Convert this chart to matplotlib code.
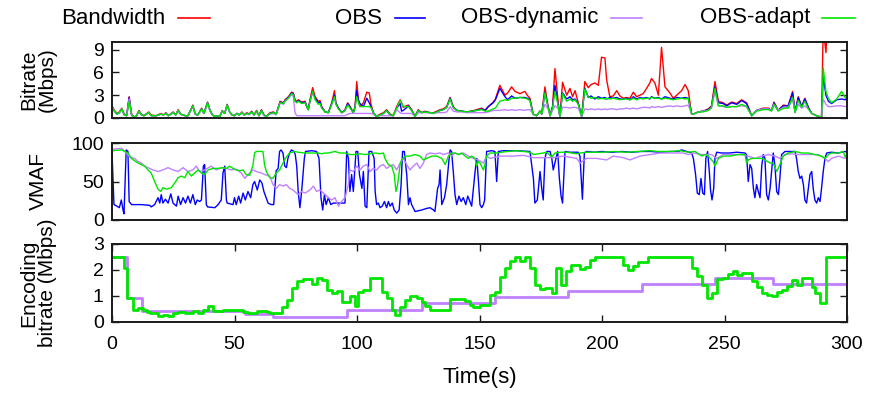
import matplotlib
matplotlib.use("Agg")
import matplotlib.pyplot as plt
from matplotlib.lines import Line2D

plt.rcParams['font.family'] = ['Liberation Sans', 'DejaVu Sans']

# ---------------- colours / labels ----------------
series_labels = ["Bandwidth", "OBS", "OBS-dynamic", "OBS-adapt"]
series_colors = ["#ff0000", "#0000ff", "#c080ff", "#00e600"]

# ---------------- panel 1: bitrate (Mbps) ----------------
rate_t = [0, 1, 2, 3, 4, 5, 6, 7, 8, 9,
          10, 11, 12, 13, 15, 16, 18, 20, 21, 22,
          23, 25, 26, 27, 28, 30, 31, 33, 34, 35,
          36.6, 37.5, 39, 40, 41, 42, 43, 44, 45, 46,
          47, 48, 49, 50, 51, 52, 53, 54, 55, 56,
          57, 58, 59, 60, 61, 62, 63, 64.5, 66, 67,
          68.6, 70, 70.6, 72, 73.3, 74, 74.7, 75.4, 76.1, 77.4,
          78.8, 79.5, 80.1, 80.8, 81.9, 82.9, 84.2, 84.9, 85.6, 87,
          88.3, 89.7, 90.8, 91.4, 92.4, 93.8, 95.1, 96.2, 97.2, 98.5,
          99.2, 99.9, 100.6, 101.2, 102.6, 104, 105, 105.7, 106.7, 107.8,
          109.4, 110.8, 112.1, 113.5, 114.8, 116.2, 117.6, 118.2, 118.9, 120,
          121, 122.3, 123.7, 125, 126.4, 127.8, 129.8, 131.2, 132.5, 133.9,
          135.2, 136.6, 138, 139.3, 140.7, 142.7, 144.8, 146.8, 148.9, 150.9,
          152.3, 153.6, 155.6, 156.5, 158.3, 160.4, 161.5, 163.1, 164.5, 166.5,
          168.5, 169.5, 170.6, 171.9, 173.3, 174.7, 175.4, 176.7, 178, 178.8,
          179.8, 180.8, 182.2, 182.8, 183.9, 185.6, 186.9, 188, 189, 190.3,
          191.7, 193, 194.4, 195.5, 197.1, 198.5, 199.8, 201.2, 201.9, 203.2,
          204.6, 206, 207.3, 208.7, 210, 211.4, 212.8, 214.1, 215.5, 216.8,
          218.2, 219.5, 220.2, 221.6, 223, 224.3, 225.7, 227.7, 229.1, 230.5,
          232.5, 233.9, 235.2, 236.6, 238, 239.3, 241.3, 243.4, 244.7, 246.1,
          247.5, 249.5, 250.9, 252.9, 255, 257, 259, 261.1, 263.1, 265.8,
          267.9, 269.2, 270.2, 271.9, 274, 276, 277.8, 278.8, 280.1, 281.5,
          282.8, 284.2, 285.6, 287.6, 289.6, 290.3, 291.4, 292.4, 293.7, 295.8,
          297.8, 299.2, 300]

bandwidth = [1.6, 1.0, 0.6, 0.8, 1.3, 0.5, 0.4, 2.8, 0.5, 0.1,
             0.3, 1.0, 0.5, 0.3, 0.8, 0.4, 0.3, 0.6, 0.4, 0.7,
             0.3, 0.8, 0.4, 1.1, 0.5, 0.3, 0.3, 1.7, 0.5, 0.4,
             1.3, 0.6, 2.1, 1.0, 0.4, 0.2, 0.3, 0.2, 1.0, 0.6,
             1.8, 0.8, 0.4, 0.3, 0.6, 0.4, 0.8, 0.4, 0.7, 0.5,
             0.9, 0.4, 1.0, 0.3, 1.1, 0.4, 0.2, 0.7, 0.8, 0.5,
             2.2, 2.0, 2.4, 2.8, 3.4, 3.3, 2.4, 2.2, 2.4, 2.1,
             2.2, 1.5, 1.1, 2.4, 4.0, 2.8, 2.2, 2.3, 1.5, 0.8,
             0.7, 2.0, 3.6, 2.0, 1.3, 0.7, 1.1, 2.0, 1.5, 0.7,
             1.5, 4.8, 2.4, 1.5, 2.0, 3.4, 3.3, 1.8, 0.7, 0.2,
             0.5, 0.7, 1.1, 0.5, 0.3, 1.5, 2.4, 2.0, 1.4, 1.6,
             1.7, 1.1, 0.2, 1.1, 0.7, 0.9, 0.7, 0.7, 0.9, 1.1,
             1.2, 1.5, 2.7, 1.5, 1.0, 0.9, 0.8, 0.9, 1.1, 1.3,
             1.0, 1.5, 2.1, 2.5, 4.3, 3.0, 3.3, 4.1, 3.5, 3.2,
             3.5, 3.0, 2.6, 0.5, 0.3, 0.9, 0.5, 4.1, 1.5, 0.3,
             1.5, 6.5, 1.8, 0.2, 4.7, 3.0, 3.9, 2.8, 3.6, 2.0,
             0.2, 4.8, 4.0, 4.4, 4.6, 4.3, 8.0, 7.9, 5.0, 2.8,
             2.9, 3.6, 2.9, 2.6, 2.7, 2.6, 3.4, 2.8, 3.0, 3.2,
             3.9, 4.6, 5.2, 4.6, 3.0, 9.3, 4.1, 3.3, 2.6, 3.0,
             3.6, 4.4, 3.6, 0.5, 0.6, 0.8, 0.9, 1.2, 1.6, 4.8,
             2.2, 2.0, 1.7, 2.1, 1.9, 2.4, 2.0, 0.3, 1.0, 1.3,
             1.3, 1.0, 2.1, 1.0, 1.7, 1.6, 3.5, 0.8, 2.8, 1.5,
             2.6, 1.4, 0.6, 0.3, 0.1, 12.0, 8.6, 15, 15, 15,
             15, 15, 15]

obs_rate = [1.5, 0.9, 0.5, 0.7, 1.2, 0.4, 0.3, 2.7, 0.4, 0.1,
            0.3, 0.9, 0.4, 0.3, 0.7, 0.3, 0.3, 0.5, 0.4, 0.6,
            0.3, 0.7, 0.4, 1.0, 0.5, 0.3, 0.3, 1.6, 0.5, 0.4,
            1.2, 0.6, 2.0, 1.0, 0.4, 0.2, 0.3, 0.2, 0.9, 0.6,
            1.7, 0.8, 0.4, 0.3, 0.6, 0.4, 0.7, 0.4, 0.6, 0.5,
            0.8, 0.4, 0.9, 0.3, 1.0, 0.4, 0.2, 0.6, 0.7, 0.5,
            2.1, 1.9, 2.3, 2.7, 3.3, 3.2, 2.3, 2.1, 2.3, 2.0,
            2.1, 1.5, 1.1, 2.2, 3.5, 2.6, 2.0, 2.1, 1.4, 0.8,
            0.7, 1.9, 3.0, 1.9, 1.3, 0.7, 1.0, 1.9, 1.4, 0.7,
            1.4, 3.6, 2.3, 1.9, 1.5, 2.6, 2.0, 1.5, 0.7, 0.2,
            0.4, 0.6, 1.0, 0.4, 0.3, 1.3, 1.9, 0.9, 1.0, 1.3,
            1.6, 1.0, 0.2, 1.0, 0.7, 0.8, 0.7, 0.6, 0.8, 1.0,
            1.1, 1.4, 2.6, 1.4, 1.0, 0.9, 0.8, 0.9, 1.0, 1.2,
            1.0, 1.5, 2.0, 2.4, 3.9, 2.8, 2.4, 2.9, 2.6, 2.7,
            2.7, 2.6, 2.4, 0.5, 0.3, 0.9, 0.5, 3.4, 1.5, 0.3,
            1.4, 4.3, 1.5, 0.2, 3.3, 2.5, 2.8, 2.4, 2.5, 1.9,
            0.2, 3.9, 2.7, 2.9, 2.5, 2.8, 2.6, 2.7, 2.5, 2.7,
            2.6, 2.7, 2.5, 2.5, 2.6, 2.4, 2.8, 2.5, 2.7, 2.6,
            2.7, 2.5, 2.8, 2.6, 2.7, 2.5, 2.8, 2.6, 2.5, 2.7,
            2.6, 2.7, 2.6, 0.5, 0.6, 0.8, 0.9, 1.1, 1.5, 4.1,
            2.0, 1.9, 1.6, 2.0, 1.8, 2.3, 1.9, 0.3, 1.0, 1.2,
            1.2, 1.0, 2.0, 1.0, 1.6, 1.6, 3.3, 0.8, 2.7, 1.5,
            2.5, 1.4, 0.6, 0.3, 0.1, 5.5, 3.0, 2.2, 1.9, 2.4,
            2.5, 2.4, 2.6]

dynamic_rate = [1.5, 0.9, 0.5, 0.7, 1.2, 0.4, 0.3, 2.5, 0.3, 0.1,
                0.3, 0.9, 0.4, 0.3, 0.7, 0.3, 0.3, 0.5, 0.4, 0.6,
                0.3, 0.7, 0.4, 1.0, 0.5, 0.3, 0.3, 1.5, 0.5, 0.4,
                1.1, 0.6, 1.8, 0.9, 0.4, 0.2, 0.3, 0.2, 0.9, 0.6,
                1.6, 0.8, 0.4, 0.3, 0.6, 0.4, 0.7, 0.4, 0.6, 0.4,
                0.7, 0.4, 0.8, 0.3, 0.9, 0.3, 0.2, 0.5, 0.6, 0.4,
                2.0, 1.8, 2.2, 2.6, 3.1, 2.8, 0.7, 0.3, 0.3, 0.3,
                0.3, 0.3, 0.3, 0.3, 0.3, 0.3, 0.3, 0.3, 0.3, 0.3,
                0.3, 0.3, 0.3, 0.3, 0.3, 0.3, 0.3, 0.5, 0.6, 0.6,
                0.6, 0.6, 0.6, 0.6, 0.6, 0.6, 0.6, 0.6, 0.5, 0.2,
                0.3, 0.3, 0.3, 0.3, 0.3, 1.1, 0.7, 0.6, 0.6, 0.6,
                0.6, 0.6, 0.2, 0.7, 0.7, 0.7, 0.7, 0.6, 0.7, 0.7,
                0.7, 0.8, 1.5, 0.9, 0.8, 0.8, 0.7, 0.7, 0.7, 0.7,
                0.7, 0.8, 1.0, 1.0, 1.0, 1.1, 1.0, 1.1, 1.0, 1.1,
                1.0, 1.1, 1.1, 0.5, 0.3, 0.9, 0.5, 1.8, 1.2, 0.3,
                1.0, 1.6, 1.2, 0.2, 1.4, 1.4, 1.3, 1.4, 1.4, 1.3,
                0.2, 1.2, 1.1, 1.2, 1.1, 1.2, 1.1, 1.2, 1.1, 1.2,
                1.2, 1.1, 1.2, 1.2, 1.3, 1.2, 1.3, 1.2, 1.3, 1.4,
                1.4, 1.3, 1.5, 1.4, 1.5, 1.4, 1.5, 1.6, 1.5, 1.6,
                1.5, 1.6, 1.7, 0.5, 0.6, 0.8, 0.9, 1.0, 1.3, 3.5,
                1.6, 1.5, 1.4, 1.5, 1.5, 1.6, 1.5, 0.3, 1.0, 1.2,
                1.2, 1.0, 1.8, 1.0, 1.4, 1.4, 2.5, 0.8, 1.8, 1.3,
                1.6, 1.2, 0.6, 0.3, 0.1, 2.5, 1.8, 1.5, 1.5, 1.6,
                1.6, 1.5, 1.6]

adapt_rate = [1.5, 0.9, 0.5, 0.7, 1.2, 0.4, 0.3, 2.2, 0.4, 0.1,
              0.3, 0.9, 0.4, 0.3, 0.7, 0.3, 0.3, 0.5, 0.4, 0.6,
              0.3, 0.7, 0.4, 1.0, 0.5, 0.3, 0.3, 1.6, 0.5, 0.4,
              1.2, 0.6, 2.0, 1.0, 0.4, 0.2, 0.3, 0.2, 0.9, 0.6,
              1.7, 0.8, 0.4, 0.3, 0.6, 0.4, 0.7, 0.4, 0.6, 0.5,
              0.8, 0.4, 0.9, 0.3, 1.0, 0.4, 0.2, 0.6, 0.7, 0.5,
              2.0, 1.9, 2.2, 2.6, 3.2, 3.1, 2.2, 2.0, 2.2, 1.9,
              2.0, 1.5, 1.1, 2.2, 3.5, 2.4, 1.8, 1.9, 1.3, 0.8,
              0.7, 1.8, 2.8, 1.8, 1.2, 0.7, 1.0, 1.7, 1.3, 0.7,
              1.4, 2.8, 2.0, 1.5, 1.5, 1.5, 1.5, 1.4, 0.7, 0.2,
              0.4, 0.6, 1.0, 0.4, 0.3, 1.3, 2.3, 2.0, 1.5, 1.5,
              1.5, 1.0, 0.2, 1.0, 0.7, 0.8, 0.7, 0.6, 0.8, 1.0,
              1.1, 1.4, 2.5, 1.4, 1.0, 0.9, 0.8, 0.9, 1.0, 1.1,
              0.9, 0.9, 1.2, 1.3, 2.2, 2.4, 2.3, 2.6, 2.6, 2.7,
              2.6, 2.5, 2.3, 0.5, 0.3, 0.9, 0.5, 3.3, 1.4, 0.3,
              1.3, 3.5, 1.5, 0.2, 3.2, 2.2, 2.5, 2.2, 2.4, 1.8,
              0.2, 3.8, 2.8, 2.6, 2.7, 2.5, 2.6, 2.5, 2.6, 2.5,
              2.6, 2.5, 2.4, 2.5, 2.5, 2.4, 2.6, 2.4, 2.6, 2.5,
              2.6, 2.6, 2.7, 2.6, 2.6, 2.5, 2.6, 2.5, 2.4, 2.5,
              2.6, 2.5, 2.6, 0.5, 0.6, 0.8, 0.8, 1.0, 1.4, 3.9,
              1.6, 1.6, 1.4, 1.5, 1.5, 1.8, 1.5, 0.3, 0.9, 1.1,
              1.1, 0.9, 1.8, 0.9, 1.3, 1.3, 2.7, 0.7, 2.3, 1.4,
              2.2, 1.2, 0.6, 0.3, 0.1, 6.6, 3.5, 2.6, 2.0, 2.5,
              3.5, 2.7, 2.9]

# ---------------- panel 2: VMAF ----------------
obs_vmaf_t = [0, 0.8, 2, 3, 3.8, 4.5, 4.9, 5.8, 6.5, 7,
              8, 12, 15.4, 16, 17.4, 18.8, 19.5, 20.1, 20.8, 21.8,
              22.9, 24, 24.9, 26.3, 27, 28, 29, 30, 31, 32,
              33, 34, 34.8, 35.8, 36.5, 37.3, 37.8, 38.5, 39, 42,
              43.3, 44.6, 45.3, 46, 46.7, 47, 49.4, 50, 50.7, 51.7,
              52.5, 53.5, 54.4, 55.5, 56.6, 57.5, 58.2, 59.3, 60.3, 61.2,
              62, 63, 63.7, 65, 66, 67, 67.8, 68.4, 69, 69.8,
              70.5, 71.2, 71.8, 72.5, 73.2, 74.3, 74.8, 75.4, 76, 76.7,
              77.4, 78.5, 79, 81.5, 83.5, 84.5, 85.3, 86, 86.7, 87.4,
              88.3, 89.3, 90.3, 95.1, 95.8, 96.5, 97.1, 97.8, 98.5, 99.6,
              100.3, 101, 102, 102.6, 103.3, 104, 104.9, 106, 107, 107.4,
              108, 108.7, 109.4, 110.3, 111.2, 112.1, 112.8, 113.5, 114.4, 115.2,
              116.2, 117.2, 118, 118.6, 119.3, 120.3, 121, 121.6, 122.3, 123.7,
              126.4, 128.4, 129.8, 131.2, 131.8, 132.9, 133.5, 133.9, 134.6, 135.7,
              136.6, 137.6, 138, 138.6, 139.3, 140, 140.7, 141.6, 142.5, 143.4,
              144.4, 145.2, 146.1, 146.8, 148.2, 148.9, 149.5, 150.2, 150.9, 151.6,
              152.1, 152.9, 155, 156.3, 157, 157.7, 159.7, 165, 170.6, 172,
              172.6, 173.6, 174.7, 175.4, 176, 176.7, 177.4, 178.8, 179.5, 180.1,
              181.2, 181.9, 182.6, 183.3, 183.9, 184.9, 186.9, 190.3, 191, 192,
              192.8, 193.7, 197, 200, 204, 208, 212, 216, 220, 224,
              228, 231.1, 232.5, 234.5, 236.6, 237.3, 238.2, 238.9, 239.7, 240.4,
              241.1, 241.8, 242.4, 243.1, 243.8, 244.3, 244.9, 245.6, 246.1, 246.8,
              248.8, 252, 255, 258.4, 259, 259.7, 260.4, 261.1, 261.8, 262.4,
              263.1, 263.8, 264.5, 265.2, 265.8, 266.5, 267.2, 267.9, 268.6, 269.2,
              269.9, 270.6, 271.3, 272, 272.6, 273.3, 274, 274.7, 278.8, 279.4,
              280.1, 280.8, 281.5, 282.2, 282.8, 283.5, 284.2, 284.9, 285.6, 286.2,
              286.9, 287.6, 288.3, 289, 289.6, 290.3, 291, 291.7, 293.7, 296.5,
              299.2, 300]
obs_vmaf = [89, 20, 18, 16, 26, 13, 8, 91, 89, 24,
            20, 20, 19, 17, 20, 29, 22, 33, 22, 27,
            22, 34, 22, 18, 31, 20, 29, 22, 31, 22,
            33, 20, 26, 24, 26, 70, 72, 20, 17, 16,
            20, 26, 61, 70, 26, 22, 20, 29, 20, 31,
            22, 35, 26, 37, 29, 46, 50, 39, 52, 48,
            37, 28, 22, 20, 20, 64, 67, 89, 91, 87,
            70, 68, 80, 87, 91, 89, 85, 70, 37, 16,
            37, 80, 89, 90, 89, 80, 29, 13, 33, 20,
            29, 20, 22, 22, 89, 80, 37, 59, 37, 89,
            89, 59, 41, 63, 18, 16, 89, 89, 80, 37,
            20, 22, 16, 18, 24, 16, 24, 18, 22, 13,
            9, 13, 46, 89, 89, 59, 20, 29, 20, 11,
            13, 15, 16, 13, 11, 41, 46, 65, 20, 29,
            46, 80, 91, 89, 63, 33, 20, 31, 24, 29,
            20, 31, 24, 18, 63, 80, 54, 20, 16, 20,
            26, 89, 90, 89, 50, 89, 90, 90, 89, 54,
            22, 26, 63, 41, 26, 80, 89, 89, 80, 65,
            80, 89, 54, 31, 22, 89, 88, 88, 83, 27,
            87, 89, 88, 89, 88, 89, 88, 89, 89, 88,
            89, 89, 91, 89, 87, 80, 59, 35, 33, 54,
            35, 33, 80, 89, 63, 39, 26, 41, 80, 88,
            87, 87, 88, 87, 85, 50, 72, 67, 41, 29,
            46, 37, 29, 70, 85, 80, 33, 26, 41, 63,
            87, 70, 37, 33, 54, 85, 87, 89, 89, 80,
            63, 54, 57, 46, 26, 22, 41, 59, 63, 41,
            26, 22, 29, 24, 41, 63, 80, 87, 88, 87,
            89, 88]

dynamic_vmaf_t = [0, 4, 5.2, 7.2, 9.2, 10.6, 12, 13.3, 14.7, 16.7,
                  18.8, 20.8, 22.9, 24.9, 27, 29, 31, 33, 34.4, 35.8,
                  37.8, 40.5, 42.6, 44.6, 46.7, 48.7, 50.7, 52.8, 54.2, 55.5,
                  57.5, 58.9, 61, 62.3, 64.4, 65.7, 67, 68.4, 69.8, 71.2,
                  72.5, 73.9, 75.9, 77.4, 78.8, 80.8, 82.2, 83.5, 84.9, 87,
                  88.3, 89.7, 91, 92.4, 93.7, 95.1, 96.5, 97.1, 98.5, 99.9,
                  101.2, 102.6, 104, 105.3, 106.7, 108, 109.4, 110.8, 112.1, 113.5,
                  114.8, 116.2, 117.6, 118.9, 120.3, 121.6, 123, 124.4, 125.7, 127.1,
                  128.4, 129.8, 131.8, 133.9, 135.2, 137.3, 138.6, 140, 142, 143.4,
                  145.5, 147.5, 149.5, 151.6, 152.9, 154.3, 158.4, 163.8, 167.9, 172,
                  176, 180.1, 184.2, 189.7, 191, 193.7, 197.8, 201.9, 204.6, 208.7,
                  211.4, 215.5, 219.6, 223.7, 227.8, 231.1, 233.2, 235.2, 237.3, 240.7,
                  244.7, 246.8, 249.5, 252.9, 257, 259.7, 262.4, 265.2, 267.9, 270.6,
                  272.6, 274.7, 277.4, 280.1, 284.2, 288.3, 291, 292.4, 293.7, 296.5,
                  299.2, 300]
dynamic_vmaf = [92, 93, 89, 82, 80, 76, 74, 70, 68, 65,
                63, 65, 68, 65, 63, 68, 63, 65, 70, 63,
                65, 70, 65, 68, 67, 65, 66, 61, 54, 59,
                65, 63, 61, 59, 57, 46, 41, 46, 44, 46,
                41, 39, 33, 37, 35, 39, 44, 37, 39, 33,
                29, 26, 29, 18, 24, 29, 46, 65, 63, 70,
                65, 70, 72, 63, 67, 65, 70, 72, 67, 70,
                72, 65, 74, 80, 72, 65, 70, 74, 67, 74,
                85, 87, 86, 87, 85, 87, 83, 87, 85, 87,
                83, 80, 78, 74, 83, 80, 83, 83, 84, 81,
                81, 81, 83, 80, 74, 80, 80, 78, 83, 81,
                78, 83, 85, 87, 87, 87, 87, 85, 87, 85,
                85, 80, 85, 85, 85, 83, 80, 83, 85, 83,
                80, 85, 86, 85, 85, 85, 80, 76, 80, 83,
                80, 82]

adapt_vmaf_t = [0, 4, 5.2, 6.5, 7.9, 9.2, 10.6, 12, 13.3, 14.7,
                16, 17.4, 18.8, 19.9, 20.8, 22.2, 24.2, 25.6, 27, 28.3,
                29.7, 31, 32.4, 33.7, 35.1, 36.5, 37.8, 39.2, 41.2, 43.3,
                45.3, 46.7, 48, 49.4, 50.7, 52.1, 53.5, 54.8, 56.2, 57.5,
                58.2, 58.9, 61.6, 62.3, 63, 64.4, 65.7, 67, 68.4, 69.8,
                71.2, 72.5, 74.6, 75.9, 78.8, 84.2, 85.6, 87, 88.3, 91,
                93, 95.1, 97.1, 99.2, 101.2, 103.3, 105.3, 107.4, 109.4, 110.8,
                111.4, 112.8, 114.2, 115.2, 115.9, 116.6, 117.6, 118.2, 119.6, 121.6,
                123.7, 125.7, 127.1, 128.4, 130.5, 132.5, 134.6, 136, 137.3, 138.6,
                140, 141.4, 142.7, 144.1, 145.5, 146.8, 148.2, 148.9, 149.5, 150.2,
                151.6, 152.2, 152.9, 154.3, 157, 161.1, 165.2, 167.9, 170.6, 172,
                174, 176, 177.4, 179.5, 180.8, 182.9, 185.6, 189.7, 191, 193.7,
                200, 205, 210, 215, 219.6, 223, 228, 232, 235.2, 238,
                239.3, 240.7, 242, 243.4, 244.7, 245.4, 246.1, 247.5, 249.5, 252.2,
                255.6, 258.4, 259, 259.7, 261.1, 263.1, 265.2, 266.5, 268.6, 269.9,
                271.3, 272.6, 274, 276, 278.8, 281.5, 284.2, 286.9, 289.6, 291,
                292.4, 293.7, 296.5, 298.5, 299.2, 300]
adapt_vmaf = [90, 91, 89, 87, 80, 77, 74, 72, 70, 65,
              61, 50, 40, 37, 42, 40, 42, 48, 55, 57,
              55, 63, 57, 61, 65, 61, 59, 65, 67, 67,
              68, 67, 70, 67, 65, 64, 65, 59, 58, 71,
              87, 89, 89, 71, 63, 55, 54, 61, 65, 74,
              82, 87, 89, 88, 87, 87, 86, 87, 87, 89,
              87, 87, 85, 85, 86, 85, 86, 87, 86, 87,
              80, 72, 70, 59, 37, 46, 72, 78, 83, 83,
              85, 83, 78, 80, 83, 83, 80, 72, 83, 87,
              87, 85, 87, 83, 80, 83, 80, 70, 76, 74,
              65, 72, 83, 87, 87, 89, 90, 89, 88, 85,
              86, 87, 88, 82, 87, 88, 88, 86, 87, 88,
              88, 89, 88, 89, 90, 89, 89, 90, 88, 89,
              86, 83, 85, 83, 78, 76, 70, 80, 83, 83,
              85, 85, 74, 78, 80, 80, 80, 78, 74, 74,
              63, 72, 83, 87, 89, 87, 87, 85, 83, 80,
              85, 87, 87, 89, 82, 86]

# ---------------- panel 3: encoding bitrate (Mbps) ----------------
dynamic_enc_t = [0, 6, 12.1, 54.3, 65.9, 95.8, 126.4, 156.3, 186.2, 216.2, 246.1, 269.9, 300]
dynamic_enc = [2.5, 0.91, 0.42, 0.3, 0.19, 0.46, 0.72, 0.98, 1.2, 1.46, 1.69, 1.46, 1.46]

adapt_enc_t = [0, 4.9, 6.3, 8.7, 10.7, 12.8, 14.1, 15.5, 18.9, 21,
               23, 25, 27, 29.8, 33.2, 35.2, 37.3, 39.3, 41.4, 45.4,
               49.5, 53.6, 55.6, 59, 63.1, 64.5, 69.3, 71.3, 73.3, 75.4,
               78.1, 81.5, 83.5, 85.6, 87.6, 89.7, 91.7, 93.7, 97.1, 99.2,
               100.5, 102.6, 105.3, 110.1, 112.1, 114.1, 115.5, 117.5, 119.6, 121.6,
               124.4, 126.4, 127.8, 129.8, 138, 144.1, 146.1, 147.5, 150.2, 154.3,
               156.3, 158.3, 160.4, 162.4, 164.5, 166.5, 168.5, 170.6, 172.6, 174.7,
               176.7, 179.4, 181.2, 183.1, 185.3, 187.2, 191, 193, 195.1, 197.1,
               208.7, 210.7, 212.8, 214.8, 218.9, 236.6, 238.6, 240.7, 242.7, 244.7,
               246.8, 249.5, 251.5, 253.6, 255, 257, 261.1, 263.1, 265.2, 267.2,
               269.2, 271.3, 273.3, 275.4, 277.4, 279.4, 281.5, 285.6, 286.9, 289,
               291.4, 300]
adapt_enc = [2.5, 2.07, 0.91, 0.46, 0.55, 0.46, 0.39, 0.33, 0.22, 0.26,
             0.22, 0.35, 0.39, 0.33, 0.43, 0.33, 0.46, 0.61, 0.43, 0.48,
             0.46, 0.39, 0.35, 0.41, 0.39, 0.35, 0.56, 0.84, 1.3, 1.56,
             1.65, 1.47, 1.69, 1.62, 1.23, 1.1, 1.2, 0.78, 1.0, 0.61,
             1.17, 1.23, 1.69, 1.17, 0.91, 0.46, 0.26, 0.58, 0.84, 1.0,
             0.91, 0.78, 0.61, 0.46, 0.88, 0.82, 0.65, 0.58, 0.65, 1.04,
             1.17, 1.75, 2.07, 2.33, 2.5, 2.33, 2.5, 2.07, 1.43, 1.26,
             1.30, 1.13, 2.07, 1.43, 1.98, 2.18, 2.03, 2.11, 2.4, 2.5,
             2.2, 2.01, 2.14, 2.31, 2.5, 2.07, 1.78, 1.43, 0.91, 1.1,
             1.65, 1.69, 1.85, 1.98, 1.81, 1.88, 1.56, 1.34, 1.13, 1.04,
             1.0, 1.17, 1.23, 1.39, 1.6, 1.43, 1.71, 1.34, 1.13, 0.72,
             2.5, 2.5]

x_ticks = [0, 50, 100, 150, 200, 250, 300]
rate_ticks = [0, 3, 6, 9]
vmaf_ticks = [0, 50, 100]
enc_ticks = [0, 1, 2, 3]

# ---------------- figure ----------------
W, H = 871, 394
fig = plt.figure(figsize=(W / 100, H / 100), dpi=100)

def frac_box(x0, y_top, x1, y_bot):
    return [x0 / W, 1 - y_bot / H, (x1 - x0) / W, (y_bot - y_top) / H]

ax1 = fig.add_axes(frac_box(112, 42, 847, 118))
ax2 = fig.add_axes(frac_box(112, 143, 847, 220))
ax3 = fig.add_axes(frac_box(112, 244, 847, 322))

TICK_FS = 14
LABEL_FS = 16
YLABEL_FS = 15
spine_c = "#1a1a1a"
for ax in (ax1, ax2, ax3):
    ax.set_xlim(0, 300)
    for s in ax.spines.values():
        s.set_linewidth(1.4)
        s.set_color(spine_c)
    ax.tick_params(axis="y", direction="in", left=True, right=True,
                   length=5, width=1.0, labelsize=TICK_FS, pad=6, colors=spine_c)
    ax.tick_params(axis="y", labelcolor="black")
    ax.set_xticks(x_ticks)

for ax in (ax1, ax2):
    ax.tick_params(axis="x", bottom=False, top=False, labelbottom=False)

ax3.tick_params(axis="x", direction="in", bottom=True, top=True,
                length=5, width=1.0, labelsize=TICK_FS, pad=10, colors=spine_c)
ax3.tick_params(axis="x", labelcolor="black")

lw_thin = 1.0
# bitrate panel
ax1.plot(rate_t, bandwidth, color=series_colors[0], lw=lw_thin)
ax1.plot(rate_t, obs_rate, color=series_colors[1], lw=lw_thin)
ax1.plot(rate_t, dynamic_rate, color=series_colors[2], lw=lw_thin)
ax1.plot(rate_t, adapt_rate, color=series_colors[3], lw=lw_thin)
ax1.set_ylim(0, 10)
ax1.set_yticks(rate_ticks)

# VMAF panel
ax2.plot(obs_vmaf_t, obs_vmaf, color=series_colors[1], lw=lw_thin)
ax2.plot(dynamic_vmaf_t, dynamic_vmaf, color=series_colors[2], lw=lw_thin)
ax2.plot(adapt_vmaf_t, adapt_vmaf, color=series_colors[3], lw=lw_thin)
ax2.set_ylim(0, 100)
ax2.set_yticks(vmaf_ticks)

# encoding bitrate panel
ax3.plot(dynamic_enc_t, dynamic_enc, color=series_colors[2], lw=2.0, drawstyle="steps-post")
ax3.plot(adapt_enc_t, adapt_enc, color=series_colors[3], lw=2.0, drawstyle="steps-post")
ax3.set_ylim(0, 3)
ax3.set_yticks(enc_ticks)
ax3.set_xlabel("Time(s)", fontsize=LABEL_FS, labelpad=10)

# y labels, centred on a common column left of the tick labels
ax1.set_ylabel("Bitrate\n(Mbps)", fontsize=YLABEL_FS, linespacing=1.0)
ax2.set_ylabel("VMAF", fontsize=YLABEL_FS)
ax3.set_ylabel("Encoding\nbitrate (Mbps)", fontsize=YLABEL_FS, linespacing=1.0)
for ax in (ax1, ax2, ax3):
    ax.yaxis.label.set_va("center")
    ax.yaxis.set_label_coords((38 - 112) / 735, 0.5)

# legend row: text followed by a short line sample
legend_text_right = [165, 382, 598, 810]
legend_line_span = [(178, 210), (395, 425), (611, 642), (822, 855)]
legend_y = 18
for lab, col, xr, (l0, l1) in zip(series_labels, series_colors,
                                    legend_text_right, legend_line_span):
    fig.text(xr / W, 1 - legend_y / H, lab, ha="right", va="center", fontsize=LABEL_FS)
    fig.add_artist(Line2D([l0 / W, l1 / W], [1 - legend_y / H] * 2,
                          color=col, lw=1.2, transform=fig.transFigure))

fig.savefig("out.png", dpi=100)
